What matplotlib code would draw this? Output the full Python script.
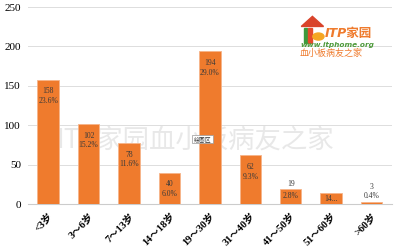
import matplotlib.pyplot as plt
from matplotlib.patches import Rectangle, Polygon, Circle

# --- data ---
categories = ['<3岁', '3～6岁', '7～13岁', '14～18岁', '19～30岁',
              '31～40岁', '41～50岁', '51～60岁', '>60岁']
counts = [158, 102, 78, 40, 194, 62, 19, 14, 3]
percents = ['23.6%', '15.2%', '11.6%', '6.0%', '29.0%', '9.3%', '2.8%', '', '0.4%']
yticks = [0, 50, 100, 150, 200, 250]

serif = ['Liberation Serif', 'Noto Sans CJK SC']
plt.rcParams['font.family'] = serif

fig = plt.figure(figsize=(3.99, 2.52), dpi=100)
ax = fig.add_axes([0.070, 0.190, 0.912, 0.782])

x = list(range(len(categories)))
ax.bar(x, counts, width=0.53, color='#EF7B2D', edgecolor='#F6B48A',
       linewidth=0.6, zorder=3)

# data labels
lab = dict(ha='center', fontsize=5.5, color='#3a3a3a', linespacing=1.25, zorder=4)
for i, (c, p) in enumerate(zip(counts, percents)):
    if c >= 30:
        ax.text(i, c - 10, f'{c}\n{p}', va='top', **lab)
    elif c >= 10 and p:
        ax.text(i, c + 1, f'{c}', va='bottom', **lab)
        ax.text(i, c - 3, p, va='top', **lab)
    elif c >= 10:
        ax.text(i, c / 2, f'{c}...', va='center', **lab)
    else:
        ax.text(i, c + 2, f'{c}\n{p}', va='bottom', **lab)

ax.set_xlim(-0.5, len(categories) - 0.5)
ax.set_ylim(0, 250)
ax.set_yticks(yticks)
ax.set_yticklabels([str(v) for v in yticks], fontsize=8)
ax.set_xticks(x)
ax.set_xticklabels(categories, rotation=45, ha='right', rotation_mode='anchor',
                   fontsize=7.5, fontweight='bold')
ax.tick_params(axis='y', length=0, pad=5)
ax.tick_params(axis='x', length=0, pad=5)
ax.grid(axis='y', color='#dddddd', linewidth=0.7, zorder=0)
for s in ['top', 'right', 'left']:
    ax.spines[s].set_visible(False)
ax.spines['bottom'].set_color('#cccccc')
ax.spines['bottom'].set_linewidth(0.8)

# watermark behind the bars
ax.text(0.49, 0.445, 'ITP家园血小板病友之家', ha='center', va='center',
        fontsize=19, color='#e8e8e8', family=['Noto Sans CJK SC'],
        transform=fig.transFigure, zorder=1)

# tooltip
ax.text(0.508, 0.448, '绘图区', ha='center', va='center', fontsize=4.2,
        family=['Noto Sans CJK SC'], color='#333333', transform=fig.transFigure,
        zorder=6, bbox=dict(facecolor='white', edgecolor='#999999', linewidth=0.5,
                            boxstyle='square,pad=0.25'))

# logo
lx, ly = 0.755, 0.86
fig.patches.append(Polygon([[lx, ly + 0.035], [lx + 0.028, ly + 0.075], [lx + 0.056, ly + 0.035]],
                           closed=True, transform=fig.transFigure,
                           color='#D9442B', figure=fig))
fig.patches.append(Rectangle((lx + 0.006, ly - 0.03), 0.009, 0.06, transform=fig.transFigure,
                             color='#3C9A3C', figure=fig))
fig.patches.append(Rectangle((lx + 0.018, ly - 0.03), 0.009, 0.06, transform=fig.transFigure,
                             color='#E54B2B', figure=fig))
fig.patches.append(Circle((lx + 0.043, ly - 0.005), 0.014, transform=fig.transFigure,
                          color='#F5A623', figure=fig))
fig.text(0.815, 0.868, 'ITP家园', fontsize=9, color='#EF7B2D', style='italic',
         fontweight='bold', family=['DejaVu Sans', 'Noto Sans CJK SC'],
         ha='left', va='center')
fig.text(0.752, 0.822, 'www.itphome.org', fontsize=5.3, color='#4E9A3B',
         fontweight='bold', style='italic', family=['DejaVu Sans'],
         ha='left', va='center')
fig.text(0.752, 0.788, '血小板病友之家', fontsize=6.5, color='#EF7B2D',
         family=['Noto Sans CJK SC'], ha='left', va='center')

fig.savefig('out.png', dpi=100)
